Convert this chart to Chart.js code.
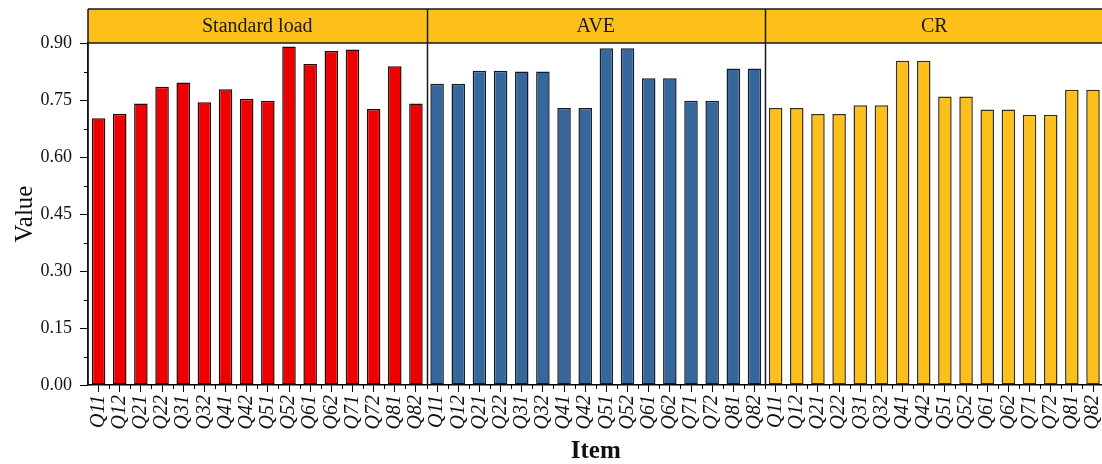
<!DOCTYPE html>
<html>
<head>
<meta charset="utf-8">
<script src="https://cdn.jsdelivr.net/npm/chart.js@4/dist/chart.umd.min.js"></script>
<style>
  html, body { margin: 0; padding: 0; background: #fff; overflow: hidden; }
  #wrap { width: 1120px; height: 464px; position: relative; }
</style>
</head>
<body>
<div id="wrap"><canvas id="c" width="1120" height="464"></canvas></div>
<script>
// ---- data ----
const categories = ['Q11','Q12','Q21','Q22','Q31','Q32','Q41','Q42','Q51','Q52','Q61','Q62','Q71','Q72','Q81','Q82'];
const panelNames = ['Standard load', 'AVE', 'CR'];
const standardLoad = [0.702,0.714,0.741,0.785,0.796,0.744,0.778,0.753,0.748,0.891,0.845,0.879,0.883,0.726,0.839,0.741];
const ave          = [0.793,0.793,0.827,0.827,0.825,0.825,0.729,0.729,0.886,0.886,0.807,0.807,0.748,0.748,0.833,0.833];
const cr           = [0.729,0.729,0.713,0.713,0.736,0.736,0.853,0.853,0.759,0.759,0.725,0.725,0.711,0.711,0.777,0.777];
const yTicks = [0, 0.15, 0.30, 0.45, 0.60, 0.75, 0.90];

// ---- build ----
const panels = [standardLoad, ave, cr];
const labels = [].concat(categories, categories, categories);
const n = categories.length;
function padded(arr, idx) {
  const out = [];
  for (let p = 0; p < panels.length; p++) {
    for (let i = 0; i < n; i++) out.push(p === idx ? arr[i] : null);
  }
  return out;
}
const fills = ['#EE0000', '#35679C', '#FDBF1A'];
const edges = ['#2a0505', '#151d28', '#3a2e1c'];
const datasets = panels.map((arr, k) => ({
  label: panelNames[k],
  data: padded(arr, k),
  backgroundColor: fills[k],
  borderColor: edges[k],
  borderWidth: 1.5,
  borderSkipped: false,
  barPercentage: 0.64,
  categoryPercentage: 1.0
}));

const SERIF = '"Liberation Serif", "Times New Roman", serif';
const HEADER_TOP = 9;

const decor = {
  id: 'decor',
  afterDraw(chart) {
    const ctx = chart.ctx;
    const a = chart.chartArea;
    const xs = chart.scales.x, ys = chart.scales.y;
    const total = labels.length;
    const boundary = i => (i === 0 ? a.left : i === total ? a.right : (xs.getPixelForValue(i - 1) + xs.getPixelForValue(i)) / 2);
    ctx.save();
    for (let p = 0; p < panels.length; p++) {
      const x0 = boundary(p * n), x1 = boundary((p + 1) * n);
      ctx.fillStyle = '#FDBF1A';
      ctx.fillRect(x0, HEADER_TOP, x1 - x0, a.top - HEADER_TOP);
      ctx.fillStyle = '#1a1a1a';
      ctx.font = '20px ' + SERIF;
      ctx.textAlign = 'center';
      ctx.textBaseline = 'middle';
      ctx.fillText(panelNames[p], (x0 + x1) / 2, (HEADER_TOP + a.top) / 2 + 1);
    }
    ctx.strokeStyle = '#1a1a1a';
    ctx.lineWidth = 1.5;
    ctx.beginPath();
    ctx.moveTo(a.left, HEADER_TOP); ctx.lineTo(a.right + 5, HEADER_TOP);
    ctx.moveTo(a.left, a.top); ctx.lineTo(a.right + 5, a.top);
    ctx.moveTo(a.left, HEADER_TOP); ctx.lineTo(a.left, a.bottom);
    for (let p = 1; p < panels.length; p++) {
      const xb = Math.round(boundary(p * n)) + 0.5;
      ctx.moveTo(xb, HEADER_TOP); ctx.lineTo(xb, a.bottom);
    }
    ctx.stroke();
    ctx.lineWidth = 1;
    ctx.strokeStyle = '#000';
    ctx.beginPath();
    for (let i = 0; i < yTicks.length - 1; i++) {
      const y = Math.round(ys.getPixelForValue((yTicks[i] + yTicks[i + 1]) / 2)) + 0.5;
      ctx.moveTo(a.left - 4, y); ctx.lineTo(a.left, y);
    }
    for (let i = 1; i < total; i++) {
      const x = Math.round(boundary(i)) + 0.5;
      ctx.moveTo(x, a.bottom); ctx.lineTo(x, a.bottom + 4);
    }
    ctx.stroke();
    ctx.restore();
  }
};

new Chart(document.getElementById('c'), {
  type: 'bar',
  data: { labels, datasets },
  options: {
    responsive: false,
    animation: false,
    events: [],
    layout: { padding: { top: 43, right: 0, bottom: 0, left: 0 } },
    plugins: { legend: { display: false }, tooltip: { enabled: false }, title: { display: false } },
    scales: {
      x: {
        stacked: true,
        grid: { display: true, drawOnChartArea: false, offset: false, tickLength: 7, color: '#000', lineWidth: 1 },
        border: { display: true, color: '#000', width: 1.5 },
        ticks: {
          autoSkip: false, minRotation: 90, maxRotation: 90, padding: 3,
          color: '#111', font: { family: SERIF, size: 20, style: 'italic' }
        },
        title: { display: true, text: 'Item', color: '#111', font: { family: SERIF, size: 25, weight: 'bold', lineHeight: 1.0 }, padding: { top: 6, bottom: 0 } },
        afterFit(s) { s.height = 79; }
      },
      y: {
        min: 0, max: 0.9,
        afterBuildTicks(s) { s.ticks = yTicks.map(v => ({ value: v })); },
        grid: { display: true, drawOnChartArea: false, tickLength: 8, color: '#000', lineWidth: 1 },
        border: { display: true, color: '#000', width: 1.5 },
        ticks: {
          padding: 8, color: '#111', font: { family: SERIF, size: 18 },
          callback: v => Number(v).toFixed(2)
        },
        title: { display: true, text: 'Value', color: '#111', font: { family: SERIF, size: 25 }, padding: { top: 10, bottom: 0 } },
        afterFit(s) { s.width = 88; }
      }
    }
  },
  plugins: [decor]
});
</script>
</body>
</html>
